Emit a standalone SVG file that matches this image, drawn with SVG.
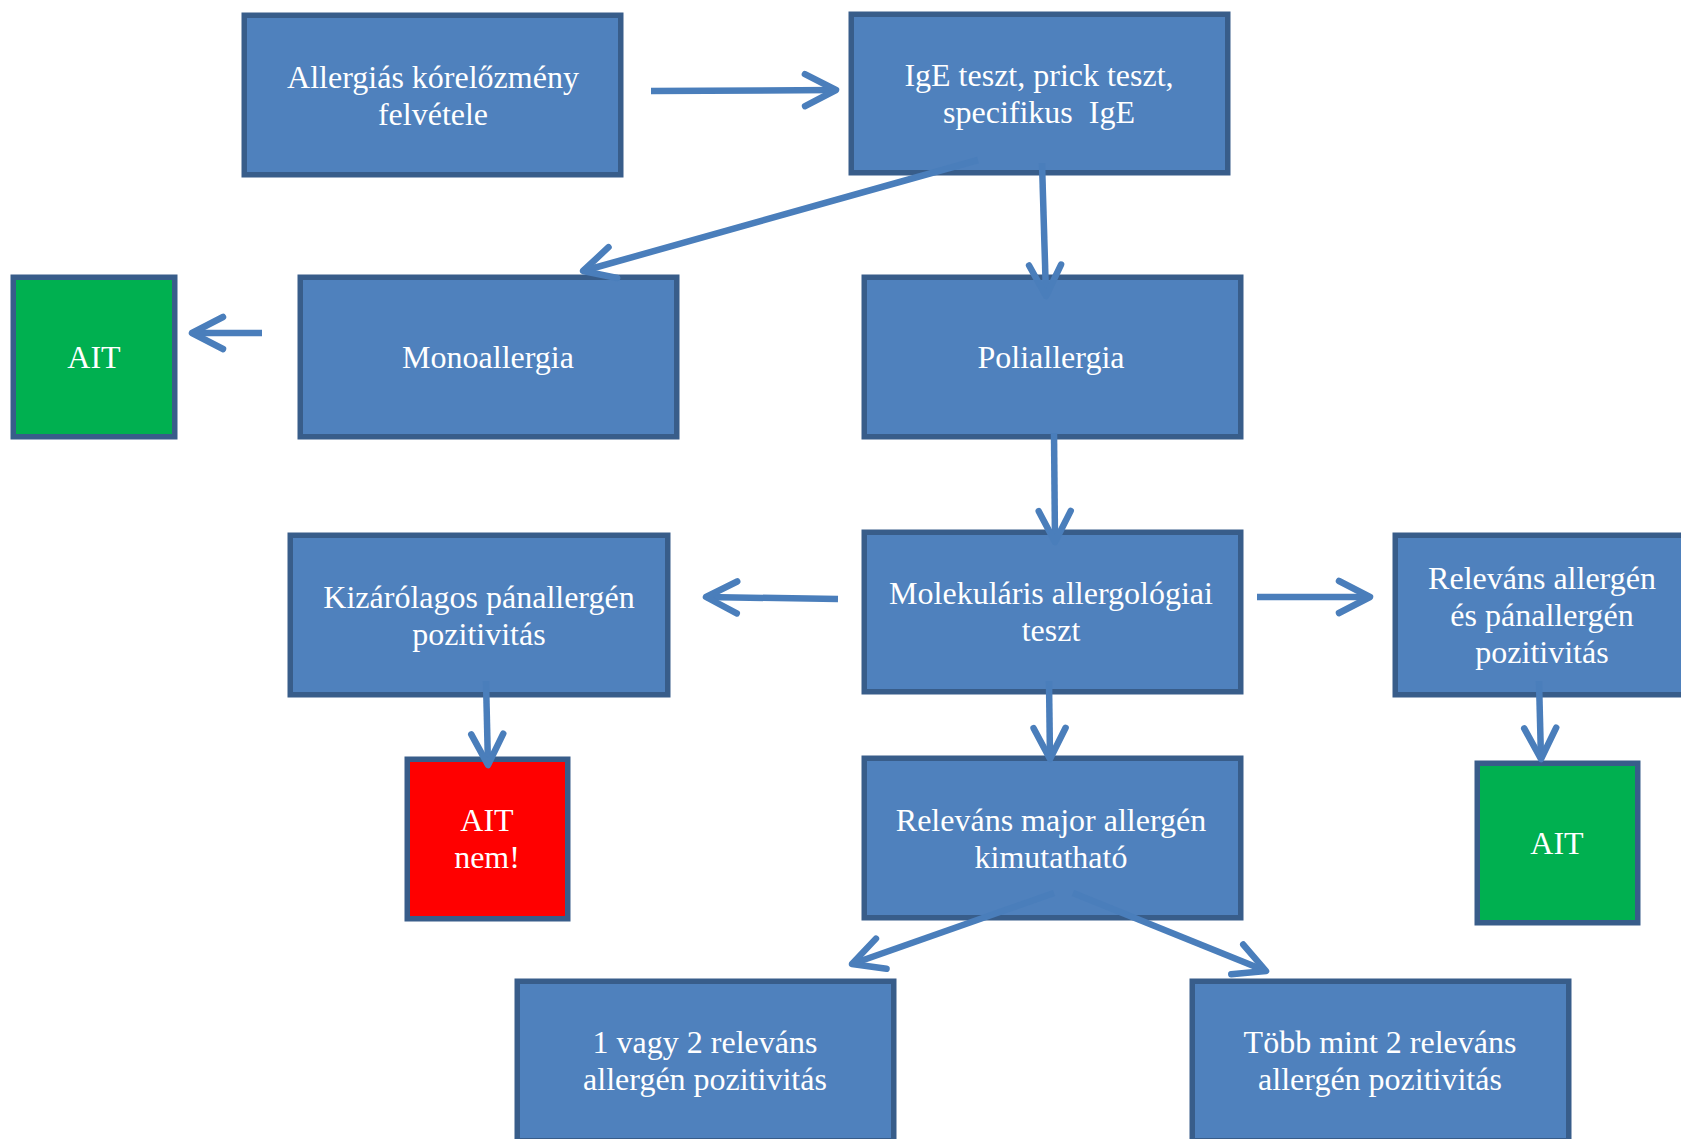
<svg xmlns="http://www.w3.org/2000/svg" width="1681" height="1139" viewBox="0 0 1681 1139">
<style>
.b{fill:#4F81BD;stroke:#385D8A;stroke-width:5.5}
.g{fill:#00B050;stroke:#385D8A;stroke-width:5.5}
.r{fill:#FF0000;stroke:#385D8A;stroke-width:5.5}
text{font-family:"Liberation Serif","Times New Roman",serif;font-size:32px;fill:#FFFFFF;text-anchor:middle}
.c line{stroke:#4A7EBB;stroke-width:6.5;fill:none;marker-end:url(#ah)}
</style>
<defs>
<marker id="ah" markerUnits="userSpaceOnUse" viewBox="-40 -25 50 50" refX="0" refY="0" markerWidth="50" markerHeight="50" orient="auto" overflow="visible">
<path d="M -31 -16 L 0 0 L -31 16" fill="none" stroke="#4A7EBB" stroke-width="6.5" stroke-linecap="round" stroke-linejoin="round"/>
</marker>
</defs>
<rect width="1681" height="1139" fill="#FFFFFF"/>
<g id="n1"><rect class="b" x="244.25" y="15.25" width="376.5" height="159.5"/><text x="433" y="88">Allergiás kórelőzmény</text><text x="433" y="125">felvétele</text></g>
<g id="n2"><rect class="b" x="851.25" y="14.25" width="376.5" height="158.5"/><text x="1039" y="86">IgE teszt, prick teszt,</text><text x="1039" y="123" xml:space="preserve">specifikus  IgE</text></g>
<g id="n3"><rect class="g" x="13.25" y="277.25" width="161.5" height="159.5"/><text x="94" y="368">AIT</text></g>
<g id="n4"><rect class="b" x="300.25" y="277.25" width="376.5" height="159.5"/><text x="488" y="368">Monoallergia</text></g>
<g id="n5"><rect class="b" x="864.25" y="277.25" width="376.5" height="159.5"/><text x="1051" y="368">Poliallergia</text></g>
<g id="n6"><rect class="b" x="864.25" y="532.25" width="376.5" height="159.5"/><text x="1051" y="604">Molekuláris allergológiai</text><text x="1051" y="641">teszt</text></g>
<g id="n7"><rect class="b" x="290.25" y="535.25" width="377.5" height="159.5"/><text x="479" y="608">Kizárólagos pánallergén</text><text x="479" y="645">pozitivitás</text></g>
<g id="n8"><rect class="b" x="1395.25" y="535.25" width="320" height="159.5"/><text x="1542" y="589">Releváns allergén</text><text x="1542" y="626">és pánallergén</text><text x="1542" y="663">pozitivitás</text></g>
<g id="n9"><rect class="r" x="407.25" y="759.25" width="160.5" height="159.5"/><text x="487" y="831">AIT</text><text x="487" y="868">nem!</text></g>
<g id="n10"><rect class="b" x="864.25" y="758.25" width="376.5" height="159.5"/><text x="1051" y="831">Releváns major allergén</text><text x="1051" y="868">kimutatható</text></g>
<g id="n11"><rect class="g" x="1477.25" y="763.25" width="160.5" height="159.5"/><text x="1557" y="854">AIT</text></g>
<g id="n12"><rect class="b" x="517.25" y="981.25" width="376.5" height="159.5"/><text x="705" y="1053">1 vagy 2 releváns</text><text x="705" y="1090">allergén pozitivitás</text></g>
<g id="n13"><rect class="b" x="1192.25" y="981.25" width="376.5" height="159.5"/><text x="1380" y="1053">Több mint 2 releváns</text><text x="1380" y="1090">allergén pozitivitás</text></g>
<g id="connectors" class="c">
<line x1="651" y1="91" x2="836" y2="90"/>
<line x1="978" y1="160" x2="583" y2="271"/>
<line x1="1042" y1="163" x2="1046" y2="296"/>
<line x1="262" y1="333" x2="192" y2="333"/>
<line x1="1054" y1="433" x2="1055" y2="542"/>
<line x1="838" y1="599" x2="706" y2="597"/>
<line x1="1257" y1="597" x2="1370" y2="597"/>
<line x1="486" y1="681" x2="488" y2="765"/>
<line x1="1049" y1="681" x2="1050" y2="759"/>
<line x1="1539" y1="681" x2="1541" y2="759"/>
<line x1="1054" y1="893" x2="852" y2="964"/>
<line x1="1073" y1="893" x2="1266" y2="971"/>
</g>
</svg>
